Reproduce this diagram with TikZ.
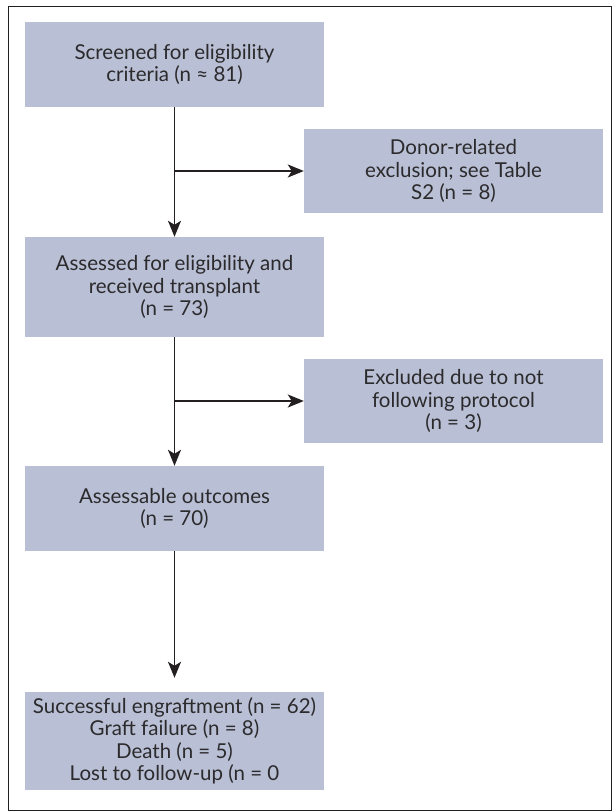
\documentclass[tikz,border=0pt]{standalone}
\usepackage{fontspec}
\setmainfont{Lato}
\usetikzlibrary{arrows.meta}
\definecolor{boxfill}{HTML}{B9BFD4}
\definecolor{txt}{HTML}{2B2A2C}
\definecolor{ln}{HTML}{231F20}
\begin{document}
\begin{tikzpicture}[x=1pt,y=-1pt,
  box/.style={rectangle, fill=boxfill, inner sep=0pt, minimum width=299pt, align=center,
    text=txt, font=\fontsize{20.5}{22.5}\selectfont},
  arr/.style={draw=ln, line width=1.6pt, -{Stealth[length=16pt,width=13pt,inset=4pt]}}]
\useasboundingbox (0,0) rectangle (612,811);
\draw[ln, line width=1pt] (8.5,6.5) rectangle (611.5,810.5);
\node[box, minimum height=85pt] (b1) at (174.5,64.5) {Screened for eligibility\\criteria (n ≈ 81)};
\node[box, minimum height=84pt] (b2) at (453.5,171) {Donor-related\\exclusion; see Table\\S2 (n = 8)};
\node[box, minimum height=100pt] (b3) at (174.5,287) {Assessed for eligibility and\\received transplant\\(n = 73)};
\node[box, minimum height=84pt] (b4) at (453.5,401) {Excluded due to not\\following protocol\\(n = 3)};
\node[box, minimum height=85pt] (b5) at (174.5,508.5) {Assessable outcomes\\(n = 70)};
\node[box, minimum height=98pt] (b6) at (174.5,741) {Successful engraftment (n = 62)\\Graft failure (n = 8)\\Death (n = 5)\\Lost to follow-up (n = 0};
\coordinate (j1) at (b1 |- b2);
\coordinate (j2) at (b3 |- b4);
\draw[arr] (b1) -- (b3);
\draw[arr] (j1) -- (b2);
\draw[arr] (b3) -- (b5);
\draw[arr] (j2) -- (b4);
\draw[arr, shorten >=14pt] (b5) -- (b6);
\end{tikzpicture}
\end{document}
